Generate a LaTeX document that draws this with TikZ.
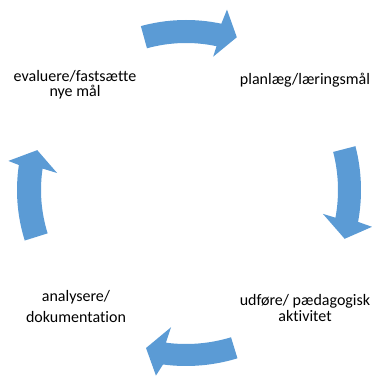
\documentclass[tikz,border=0pt]{standalone}
\usepackage{fontspec}
\setmainfont{Carlito}[Ligatures=NoCommon]
\definecolor{arrowblue}{RGB}{91,155,213}
\begin{document}
\begin{tikzpicture}[x=1pt,y=1pt,
  cyc/.style={fill=arrowblue, draw=none},
  lbl/.style={align=center, inner sep=0pt, anchor=base, text=black}]
\useasboundingbox (0,0) rectangle (372,377);
\begin{scope}[shift={(186,187)}]
% top arrow (towards right)
\path[cyc] (105.4:170pt) arc[start angle=105.4, end angle=78, radius=170pt]
  -- (77.2:185pt) -- (71.6:161pt) -- (78.5:136pt) -- (78:147pt)
  arc[start angle=78, end angle=105.4, radius=147pt] -- cycle;
% right arrow (downwards)
\path[cyc] (14.5:175pt) arc[start angle=14.5, end angle=-10.5, radius=175pt]
  -- (-11.2:189.6pt) -- (-17.1:166pt) -- (-9.9:139pt) -- (-10.5:152pt)
  arc[start angle=-10.5, end angle=14.5, radius=152pt] -- cycle;
% bottom arrow (towards left)
\path[cyc] (-73:176pt) arc[start angle=-73, end angle=-97.5, radius=176pt]
  -- (-99.2:188pt) -- (-104.2:163pt) -- (-96.2:138pt) -- (-97.5:154pt)
  arc[start angle=-97.5, end angle=-73, radius=154pt] -- cycle;
% left arrow (upwards)
\path[cyc] (197.4:169pt) arc[start angle=197.4, end angle=171.5, radius=169pt]
  -- (170.7:180pt) -- (165:154pt) -- (172.5:130pt) -- (171.5:145pt)
  arc[start angle=171.5, end angle=197.4, radius=145pt] -- cycle;
\end{scope}
\node[lbl, font=\fontsize{16}{15}\selectfont] (evaluate) at (75,280.3) {evaluere/fastsætte\\nye mål};
\node[lbl, font=\fontsize{16}{16}\selectfont] (plan) at (305,292.7) {planlæg/læringsmål};
\node[lbl, font=\fontsize{16}{21}\selectfont] (analyse) at (76,54.3) {analysere/\\dokumentation};
\node[lbl, font=\fontsize{16}{16}\selectfont] (execute) at (305,55.3) {udføre/ pædagogisk\\aktivitet};
\end{tikzpicture}
\end{document}
